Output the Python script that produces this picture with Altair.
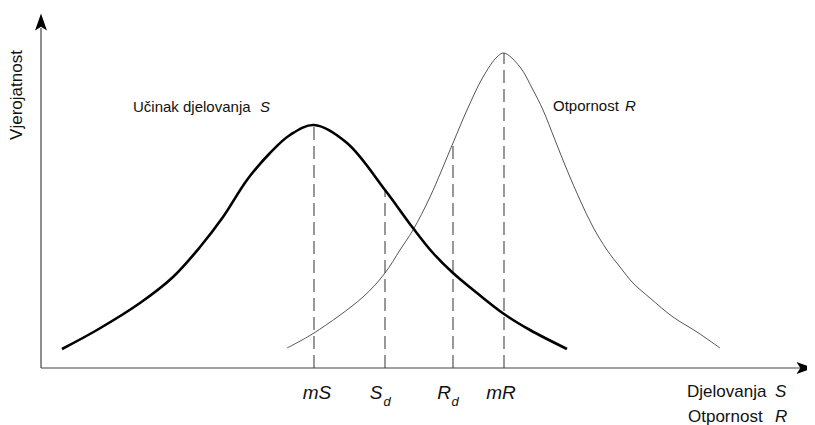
import altair as alt
import pandas as pd

# Values (arbitrary units: x along the axis, y = probability height)
s_x = [21, 56, 99, 132, 159, 182, 206, 229, 249, 273, 306, 344, 372, 392, 412, 436, 463, 489, 526]
s_y = [19, 38, 65, 91, 121, 151, 188, 215, 233, 243, 225, 178, 140, 115, 95, 75, 54, 38, 19]

r_x = [246, 273, 322, 344, 359, 372, 389, 412, 426, 442, 456, 463,
       479, 492, 502, 514, 526, 539, 552, 566, 579, 592, 609, 632, 656, 679]
r_y = [20, 35, 71, 95, 118, 138, 171, 225, 258, 291, 311, 315,
       301, 278, 258, 228, 198, 168, 141, 118, 101, 85, 70, 51, 36, 20]

marker_names = ["mS", "Sd", "Rd", "mR"]
marker_x = [273, 344, 412, 463]
marker_top = [243, 178, 225, 315]

W, H = 799, 417
XD = [-33, 766]
YD = [360 - H, 360]

xs = alt.Scale(domain=XD, nice=False, zero=False)
ys = alt.Scale(domain=YD, nice=False, zero=False)


def X(field="x"):
    return alt.X(f"{field}:Q", scale=xs, axis=None)


def Y(field="y"):
    return alt.Y(f"{field}:Q", scale=ys, axis=None)


s_df = pd.DataFrame({"x": s_x, "y": s_y})
r_df = pd.DataFrame({"x": r_x, "y": r_y})
m_df = pd.DataFrame({"name": marker_names, "x": marker_x, "y0": [0] * 4, "y1": marker_top})

s_line = alt.Chart(s_df).mark_line(color="#000000", strokeWidth=2.6, interpolate="catmull-rom").encode(x=X(), y=Y())
r_line = alt.Chart(r_df).mark_line(color="#555555", strokeWidth=1, interpolate="catmull-rom").encode(x=X(), y=Y())

dashes = alt.Chart(m_df).mark_rule(color="#555555", strokeWidth=1.2, strokeDash=[13, 6]).encode(
    x=X(), y=Y("y0"), y2="y1:Q"
)

# axes
axis_df = pd.DataFrame({"x": [0, 0], "y": [0, 0], "x2": [0, 760], "y2": [340, 0]})
axes = alt.Chart(axis_df).mark_rule(color="#444444", strokeWidth=1.2).encode(
    x=X(), y=Y(), x2="x2:Q", y2="y2:Q"
)

up_arrow = alt.Chart(pd.DataFrame({"x": [0], "y": [346]})).mark_point(
    shape="M0,-1L0.7,1L0,0.55L-0.7,1Z", size=289, filled=True, color="#000000", opacity=1
).encode(x=X(), y=Y())
right_arrow = alt.Chart(pd.DataFrame({"x": [764], "y": [0]})).mark_point(
    shape="M1,0L-1,-0.7L-0.55,0L-1,0.7Z", size=289, filled=True, color="#000000", opacity=1
).encode(x=X(), y=Y())

# texts
normal_df = pd.DataFrame({
    "x": [92, 512, 646, 647],
    "y": [261, 262, -24, -49],
    "text": ["Učinak djelovanja", "Otpornost", "Djelovanja", "Otpornost"],
    "size": [15, 15, 17, 17],
})
italic_df = pd.DataFrame({
    "x": [219, 584, 734, 734],
    "y": [261, 262, -24, -49],
    "text": ["S", "R", "S", "R"],
    "size": [15, 15, 17, 17],
})
normal_txt = alt.Chart(normal_df).mark_text(
    align="left", baseline="middle", font="Liberation Sans", color="#111111"
).encode(x=X(), y=Y(), text="text:N", size=alt.Size("size:Q", scale=None))
italic_txt = alt.Chart(italic_df).mark_text(
    align="left", baseline="middle", font="Liberation Sans", fontStyle="italic", color="#111111"
).encode(x=X(), y=Y(), text="text:N", size=alt.Size("size:Q", scale=None))

mk_df = pd.DataFrame({
    "x": [276, 335, 403, 460],
    "y": [-25, -25, -25, -25],
    "text": ["mS", "S", "R", "mR"],
})
sub_df = pd.DataFrame({
    "x": [346, 414],
    "y": [-34, -34],
    "text": ["d", "d"],
})
mk_txt = alt.Chart(mk_df).mark_text(
    align="center", baseline="middle", font="Liberation Sans", fontStyle="italic", fontSize=19, color="#111111"
).encode(x=X(), y=Y(), text="text:N")
sub_txt = alt.Chart(sub_df).mark_text(
    align="center", baseline="middle", font="Liberation Sans", fontStyle="italic", fontSize=13, color="#111111"
).encode(x=X(), y=Y(), text="text:N")

ylab = alt.Chart(pd.DataFrame({"x": [-24], "y": [273], "text": ["Vjerojatnost"]})).mark_text(
    align="center", baseline="middle", angle=270, font="Liberation Sans", fontSize=17, color="#111111"
).encode(x=X(), y=Y(), text="text:N")

chart = alt.layer(
    dashes, r_line, s_line, axes, up_arrow, right_arrow, normal_txt, italic_txt, mk_txt, sub_txt, ylab
).properties(
    width=W, height=H, padding=0, autosize=alt.AutoSizeParams(type="none"), background="white"
).configure_view(stroke=None)

chart.save("out.html", embed_options={"renderer": "svg", "actions": False})
